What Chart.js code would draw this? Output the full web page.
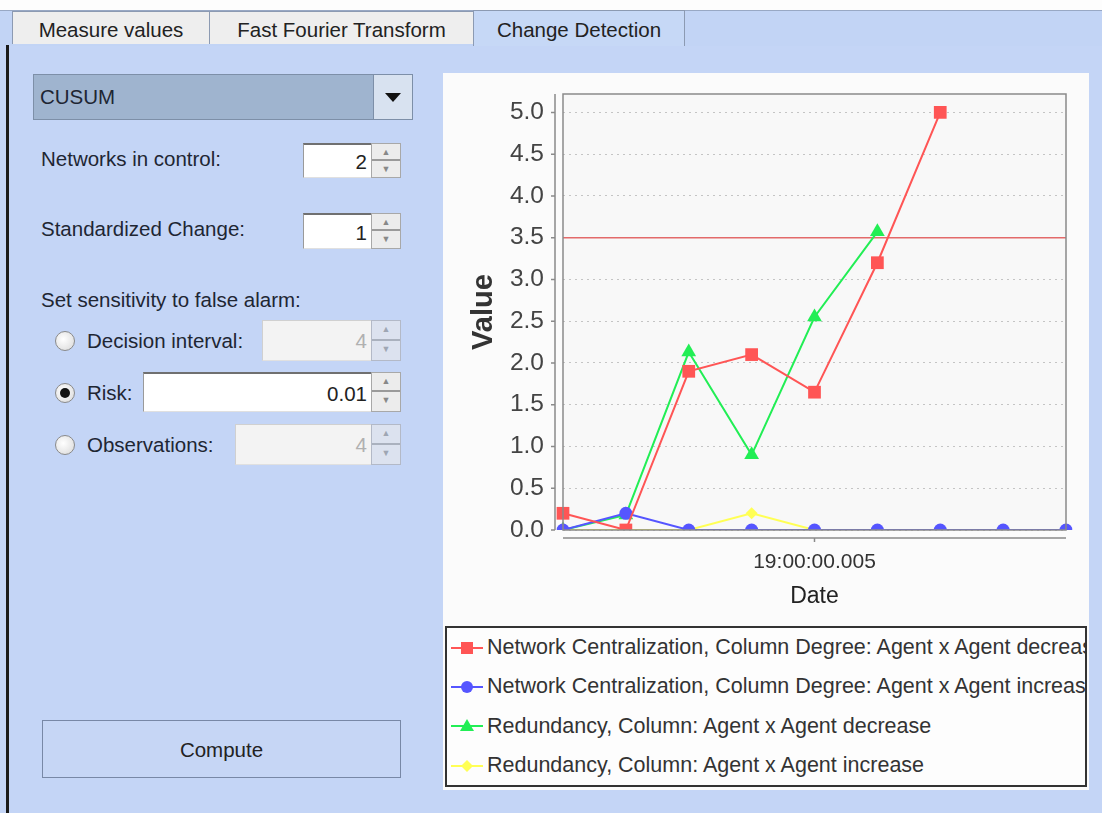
<!DOCTYPE html>
<html>
<head>
<meta charset="utf-8">
<script src="https://cdn.jsdelivr.net/npm/chart.js@4.4.1/dist/chart.umd.min.js"></script>
<style>
  body { margin: 0; width: 1102px; height: 813px; background: #c4d5f6; font-family: "Liberation Sans", Arial, sans-serif; position: relative; overflow: hidden; color: #1e2633; }
  .abs { position: absolute; }
  .topwhite { left: 0; top: 0; width: 1102px; height: 10px; background: #fdfdfd; }
  .strip { left: 0; top: 10px; width: 1102px; height: 35px; background: #c2d4f5; border-top: 1px solid #98a8c4; }
  .tab { top: 11px; height: 32px; background: #eeeeee; border: 1px solid #8c9ab2; border-bottom: none; font-size: 20.5px; line-height: 36px; text-align: center; color: #222; }
  .tab.sel { top: 10px; height: 35px; background: #c6d8f6; line-height: 38px; }
  .leftline { left: 6px; top: 45px; width: 3px; height: 768px; background: #1a1a1a; }
  .label { font-size: 20.5px; line-height: 24px; color: #1e2633; white-space: nowrap; }
  .combo { left: 33px; top: 74px; width: 338px; height: 44px; background: #9fb4cf; border: 1px solid #7d8fa8; font-size: 20.5px; line-height: 44px; padding-left: 6px; box-sizing: content-box; color: #1e2633; }
  .arrow { left: 373px; top: 74px; width: 38px; height: 44px; background: #d8e2f0; border: 1px solid #7d8fa8; }
  .arrow:after { content: ""; position: absolute; left: 11px; top: 18px; border-left: 8px solid transparent; border-right: 8px solid transparent; border-top: 9px solid #111; }
  .field { background: #fff; border-top: 2px solid #707070; border-left: 1px solid #9a9a9a; border-bottom: 1px solid #e0e0e0; box-sizing: border-box; font-size: 20.5px; text-align: right; padding-right: 4px; color: #222; }
  .field.off { background: #f3f3f3; color: #b0b0b0; border-top: 1px solid #d0d0d0; border-left: 1px solid #d0d0d0; }
  .spin { width: 30px; background: #ececec; border: 1px solid #a8a8a8; box-sizing: border-box; }
  .spin div { height: 50%; box-sizing: border-box; font-size: 9px; color: #888; text-align: center; line-height: 16px; }
  .spin div:first-child { border-bottom: 2px solid #9a9a9a; }
  .radio { width: 20px; height: 20px; border-radius: 50%; background: radial-gradient(circle at 40% 40%, #ffffff, #d8d8d8); border: 1px solid #8a8a8a; box-sizing: border-box; }
  .radio.on:after { content: ""; position: absolute; left: 4px; top: 4px; width: 10px; height: 10px; border-radius: 50%; background: #111; }
  .button { left: 42px; top: 720px; width: 359px; height: 58px; border: 1px solid #7888a6; box-sizing: border-box; background: #c6d6f5; font-size: 20.5px; line-height: 58px; text-align: center; color: #222; }
  .panel { left: 443px; top: 73px; width: 646px; height: 717px; background: #fbfbfb; }
  .chartbox { left: 0; top: 0; width: 646px; height: 545px; }
  .legend { left: 2px; top: 553px; width: 642px; height: 161px; border: 2px solid #333; box-sizing: border-box; background: #fdfdfd; overflow: hidden; }
  .legrow { height: 39.3px; display: flex; align-items: center; white-space: nowrap; font-size: 21.5px; color: #333; }
  .legrow svg { margin-left: 4px; margin-right: 4px; flex: none; }
</style>
</head>
<body>
<div class="abs topwhite"></div>
<div class="abs strip"></div>
<div class="abs tab" style="left:12px;width:196px;">Measure values</div>
<div class="abs tab" style="left:209px;width:263px;">Fast Fourier Transform</div>
<div class="abs tab sel" style="left:473px;width:210px;">Change Detection</div>
<div class="abs leftline"></div>

<div class="abs combo">CUSUM</div>
<div class="abs arrow"></div>

<div class="abs label" style="left:41px;top:147px;">Networks in control:</div>
<div class="abs field" style="left:303px;top:143px;width:68px;height:35px;line-height:34px;">2</div>
<div class="abs spin" style="left:371px;top:143px;height:35px;"><div>▲</div><div>▼</div></div>

<div class="abs label" style="left:41px;top:217px;">Standardized Change:</div>
<div class="abs field" style="left:303px;top:213px;width:68px;height:36px;line-height:35px;">1</div>
<div class="abs spin" style="left:371px;top:213px;height:36px;"><div>▲</div><div>▼</div></div>

<div class="abs label" style="left:41px;top:288px;">Set sensitivity to false alarm:</div>

<div class="abs radio" style="left:55px;top:331px;"></div>
<div class="abs label" style="left:87px;top:329px;">Decision interval:</div>
<div class="abs field off" style="left:262px;top:320px;width:109px;height:41px;line-height:40px;">4</div>
<div class="abs spin" style="left:371px;top:320px;height:41px;opacity:0.6;"><div>▲</div><div>▼</div></div>

<div class="abs radio on" style="left:55px;top:383px;"></div>
<div class="abs label" style="left:87px;top:381px;">Risk:</div>
<div class="abs field" style="left:143px;top:372px;width:228px;height:40px;line-height:39px;">0.01</div>
<div class="abs spin" style="left:371px;top:372px;height:40px;"><div>▲</div><div>▼</div></div>

<div class="abs radio" style="left:55px;top:435px;"></div>
<div class="abs label" style="left:87px;top:433px;">Observations:</div>
<div class="abs field off" style="left:235px;top:424px;width:136px;height:41px;line-height:40px;">4</div>
<div class="abs spin" style="left:371px;top:424px;height:41px;opacity:0.6;"><div>▲</div><div>▼</div></div>

<div class="abs button">Compute</div>

<div class="abs panel">
  <div class="abs chartbox"><canvas id="cdChart"></canvas></div>
  <div class="abs legend" id="legend"></div>
</div>

<script>
// Observation times (one per network) and the single labelled tick
const dates = ['19:00:00.001', '19:00:00.002', '19:00:00.003', '19:00:00.004', '19:00:00.005',
               '19:00:00.006', '19:00:00.007', '19:00:00.008', '19:00:00.009'];
const shownDates = ['19:00:00.005'];

const seriesNames = [
    'Network Centralization, Column Degree: Agent x Agent decrease',
    'Network Centralization, Column Degree: Agent x Agent increase',
    'Redundancy, Column: Agent x Agent decrease',
    'Redundancy, Column: Agent x Agent increase'
];
const seriesColors = ['#ff5555', '#5555ff', '#22ee55', '#ffff55'];
const seriesShapes = ['rect', 'circle', 'triangle', 'rectRot'];
const seriesRadius = [9, 6.5, 8.5, 6];

// CUSUM statistics
const centralDecrease = [0.2, 0.0, 1.9, 2.1, 1.65, 3.2, 5.0, null, null];
const centralIncrease = [0.0, 0.2, 0.0, 0.0, 0.0, 0.0, 0.0, 0.0, 0.0];
const redundDecrease  = [0.0, 0.18, 2.13, 0.9, 2.55, 3.57, null, null, null];
const redundIncrease  = [0.0, 0.0, 0.0, 0.2, 0.0, null, null, null, null];
const seriesValues = [centralDecrease, centralIncrease, redundDecrease, redundIncrease];

// decision threshold
const threshold = [3.5, 3.5, 3.5, 3.5, 3.5, 3.5, 3.5, 3.5, 3.5];

const yMin = 0;
const yMax = 5.22;
const yStep = 0.5;

const datasets = seriesValues.map((vals, i) => ({
    label: seriesNames[i],
    data: vals,
    borderColor: seriesColors[i],
    backgroundColor: seriesColors[i],
    pointBackgroundColor: seriesColors[i],
    pointBorderWidth: 0,
    pointStyle: seriesShapes[i],
    pointRadius: seriesRadius[i],
    borderWidth: 2,
    tension: 0,
    spanGaps: false
}));
datasets.push({
    label: 'threshold',
    data: threshold,
    borderColor: '#e36a6a',
    borderWidth: 1.5,
    pointRadius: 0,
    tension: 0
});

// plot background, outline and the offset axis lines
const plotFrame = {
    id: 'plotFrame',
    beforeDraw(chart) {
        const {ctx, chartArea: a} = chart;
        ctx.save();
        ctx.fillStyle = '#f8f8f8';
        ctx.fillRect(a.left, a.top, a.right - a.left, a.bottom - a.top);
        ctx.restore();
    },
    afterDraw(chart) {
        const {ctx, chartArea: a, scales} = chart;
        ctx.save();
        ctx.strokeStyle = '#8a8a8a';
        ctx.lineWidth = 1.5;
        ctx.strokeRect(a.left, a.top, a.right - a.left, a.bottom - a.top);

        const ax = a.left - 8;
        ctx.beginPath();
        ctx.moveTo(ax, a.top);
        ctx.lineTo(ax, a.bottom);
        scales.y.ticks.forEach(t => {
            const py = scales.y.getPixelForValue(t.value);
            ctx.moveTo(ax, py);
            ctx.lineTo(ax - 4, py);
        });
        const ay = a.bottom + 8;
        ctx.moveTo(a.left, ay);
        ctx.lineTo(a.right, ay);
        shownDates.forEach(d => {
            const px = scales.x.getPixelForValue(dates.indexOf(d));
            ctx.moveTo(px, ay);
            ctx.lineTo(px, ay + 4);
        });
        ctx.stroke();
        ctx.restore();
    }
};

const chart = new Chart(document.getElementById('cdChart'), {
    type: 'line',
    data: { labels: dates, datasets: datasets },
    options: {
        responsive: true,
        maintainAspectRatio: false,
        animation: false,
        layout: { padding: { top: 21, right: 23, left: 0, bottom: 0 } },
        plugins: {
            legend: { display: false },
            tooltip: { enabled: false }
        },
        scales: {
            x: {
                offset: false,
                grid: { display: false, drawTicks: false },
                border: { display: false },
                ticks: {
                    autoSkip: false,
                    maxRotation: 0,
                    padding: 20,
                    color: '#333',
                    font: { family: 'Liberation Sans', size: 21 },
                    callback: function(value, index) {
                        const lab = this.getLabelForValue(value);
                        return shownDates.includes(lab) ? lab : '';
                    }
                },
                title: {
                    display: true,
                    text: 'Date',
                    color: '#222',
                    font: { family: 'Liberation Sans', size: 23 },
                    padding: { top: 0, bottom: 8 }
                },
                afterFit: (scale) => { scale.height = 88; }
            },
            y: {
                min: yMin,
                max: yMax,
                grid: { color: '#c4c4c4', lineWidth: 1, drawTicks: false },
                border: { display: false, dash: [2, 4] },
                ticks: {
                    stepSize: yStep,
                    includeBounds: false,
                    padding: 19,
                    color: '#444',
                    font: { family: 'Liberation Sans', size: 24.5 },
                    callback: (v) => v.toFixed(1)
                },
                title: {
                    display: true,
                    text: 'Value',
                    color: '#333',
                    font: { family: 'Liberation Sans', size: 29, weight: 'bold' },
                    padding: { top: 24, bottom: 0 }
                },
                afterFit: (scale) => {
                    scale.width = 120;
                    scale.paddingTop = 0;
                    scale.paddingBottom = 0;
                }
            }
        }
    },
    plugins: [plotFrame]
});

// legend box: line with the series marker, then the (clipped) series name
function markerSvg(i) {
    const c = seriesColors[i];
    let shape = '';
    if (seriesShapes[i] === 'rect') shape = `<rect x="10" y="4" width="12" height="12" fill="${c}"/>`;
    else if (seriesShapes[i] === 'circle') shape = `<circle cx="16" cy="10" r="6" fill="${c}"/>`;
    else if (seriesShapes[i] === 'triangle') shape = `<polygon points="16,3 23,15 9,15" fill="${c}"/>`;
    else shape = `<polygon points="16,4 22,10 16,16 10,10" fill="${c}"/>`;
    return `<svg width="32" height="20"><line x1="0" y1="10" x2="32" y2="10" stroke="${c}" stroke-width="2"/>${shape}</svg>`;
}
const legend = document.getElementById('legend');
seriesNames.forEach((name, i) => {
    const row = document.createElement('div');
    row.className = 'legrow';
    row.innerHTML = markerSvg(i) + '<span>' + name + '</span>';
    legend.appendChild(row);
});
</script>
</body>
</html>
